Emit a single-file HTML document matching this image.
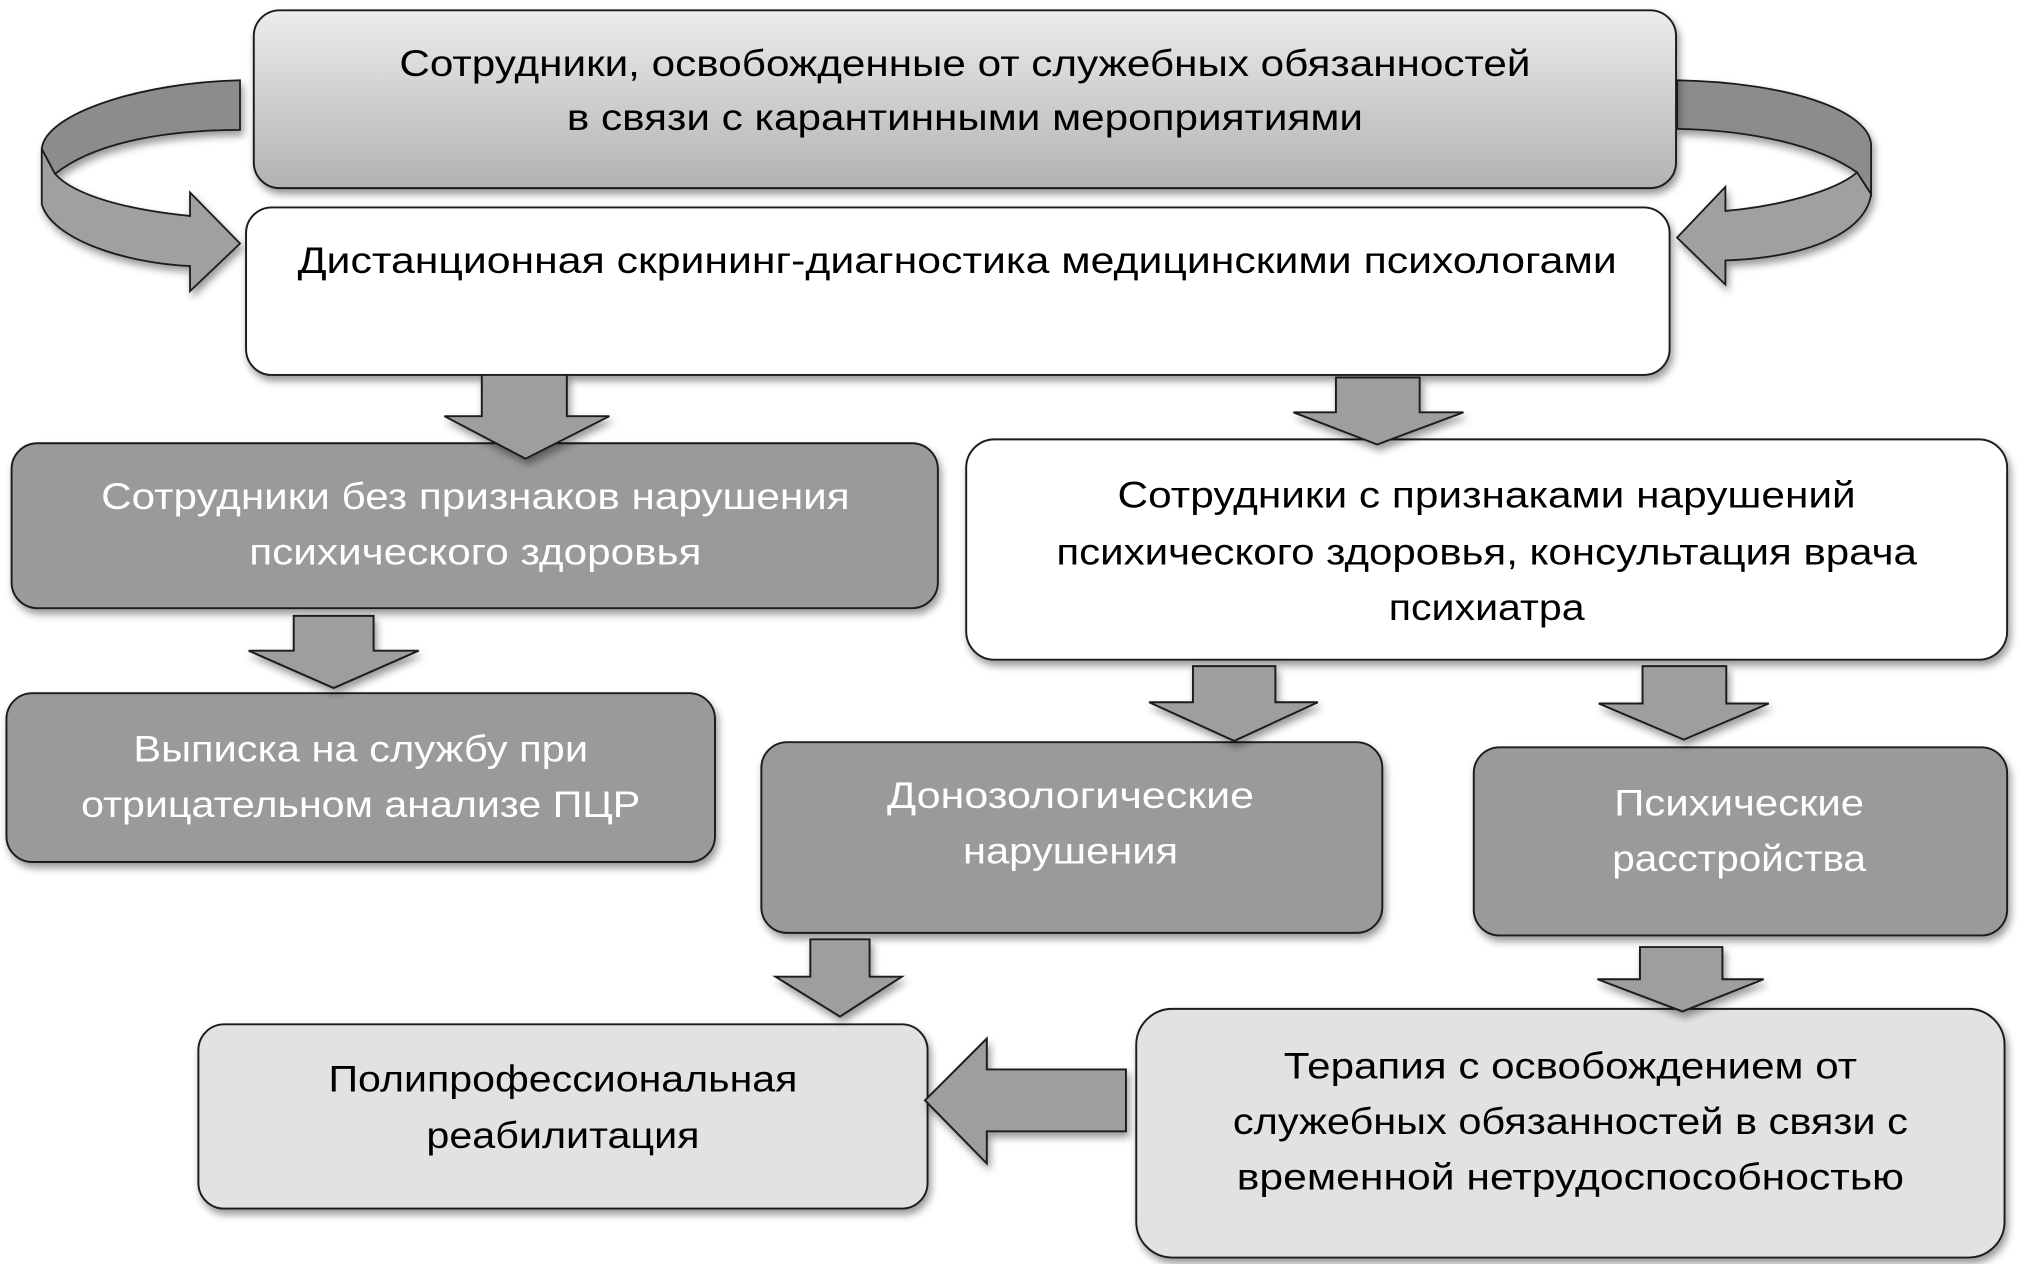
<!DOCTYPE html>
<html><head><meta charset="utf-8"><style>
html,body{margin:0;padding:0;background:#fff;}
svg{display:block;}
text{font-family:"Liberation Sans","DejaVu Sans",sans-serif;font-size:29px;text-anchor:middle;}
.d{fill:#000;}
.w{fill:#fff;}
</style></head><body>
<svg width="2020" height="1264" viewBox="0 0 1568 981" preserveAspectRatio="none" xmlns="http://www.w3.org/2000/svg">
<defs>
<linearGradient id="g1" x1="0" y1="0" x2="0" y2="1">
<stop offset="0" stop-color="#ececec"/>
<stop offset="1" stop-color="#b2b2b2"/>
</linearGradient>
<filter id="sh" x="-10%" y="-10%" width="120%" height="130%">
<feDropShadow dx="2" dy="4" stdDeviation="3" flood-color="#000" flood-opacity="0.4"/>
</filter>
</defs>

<!-- left ribbon arrow -->
<g stroke="#1a1a1a" stroke-width="1.4" stroke-linejoin="miter" filter="url(#sh)">
<path d="M186.3,62.3 C110,64 35,88 32.4,115.6 L42.7,135 C70,113 120,101 186.3,100.8 Z" fill="#8c8c8c"/>
<path d="M32.4,115.6 L32.4,158.4 C40,185 95,204 147.5,206.5 L147.5,226 L186.3,189 L147.5,149.4 L147.5,167.6 C100,163 58,152 42.7,135 Z" fill="#a0a0a0"/>
</g>
<!-- right ribbon arrow -->
<g stroke="#1a1a1a" stroke-width="1.4" stroke-linejoin="miter" filter="url(#sh)">
<path d="M1301.8,62.3 C1390,64 1450,86 1452.4,111.7 L1452.4,150.7 L1441.5,133.8 C1412,113 1360,101 1301.8,100 Z" fill="#8c8c8c"/>
<path d="M1452.4,150.7 C1448,182 1400,200 1339.3,202.1 L1339.3,220.8 L1301.8,184.4 L1339.3,145 L1339.3,163.7 C1382,160 1425,148 1441.5,133.8 Z" fill="#a0a0a0"/>
</g>

<!-- boxes -->
<rect x="197" y="8" width="1104" height="138" rx="20" fill="url(#g1)" stroke="#1a1a1a" stroke-width="1.5" filter="url(#sh)"/>
<rect x="191" y="161" width="1105" height="130" rx="20" fill="#fff" stroke="#1a1a1a" stroke-width="1.5" filter="url(#sh)"/>
<rect x="9" y="344" width="719" height="128" rx="20" fill="#9a9a9a" stroke="#1a1a1a" stroke-width="1.5" filter="url(#sh)"/>
<rect x="750" y="341" width="808" height="171" rx="22" fill="#fff" stroke="#1a1a1a" stroke-width="1.5" filter="url(#sh)"/>
<rect x="5" y="538" width="550" height="131" rx="20" fill="#9a9a9a" stroke="#1a1a1a" stroke-width="1.5" filter="url(#sh)"/>
<rect x="591" y="576" width="482" height="148" rx="20" fill="#9a9a9a" stroke="#1a1a1a" stroke-width="1.5" filter="url(#sh)"/>
<rect x="1144" y="580" width="414" height="146" rx="20" fill="#9a9a9a" stroke="#1a1a1a" stroke-width="1.5" filter="url(#sh)"/>
<rect x="154" y="795" width="566" height="143" rx="20" fill="#e2e2e2" stroke="#1a1a1a" stroke-width="1.5" filter="url(#sh)"/>
<rect x="882" y="783" width="674" height="193" rx="28" fill="#e2e2e2" stroke="#1a1a1a" stroke-width="1.5" filter="url(#sh)"/>

<!-- arrows -->
<g fill="#9e9e9e" stroke="#1a1a1a" stroke-width="1.5" stroke-linejoin="miter" filter="url(#sh)">
<polygon points="374,291 440,291 440,323 473,323 408,356 345,323 374,323"/>
<polygon points="1037,293 1102,293 1102,320 1136,320 1069,345 1004,320 1037,320"/>
<polygon points="228,478 290,478 290,505 325,505 259,534 193,505 228,505"/>
<polygon points="926,517 990,517 990,545 1023,545 958,575 892,545 926,545"/>
<polygon points="1275,517 1340,517 1340,546 1373,546 1307,574 1241,546 1275,546"/>
<polygon points="629,729 675,729 675,758 700,758 652,789 602,758 629,758"/>
<polygon points="1273,735 1337,735 1337,760 1369,760 1306,785 1240,760 1273,760"/>
<polygon points="874,830 874,878 766,878 766,903 718,854 766,806 766,830"/>
</g>

<!-- text -->
<text class="d" x="749" y="59" textLength="878" lengthAdjust="spacingAndGlyphs">Сотрудники, освобожденные от служебных обязанностей</text>
<text class="d" x="749" y="101" textLength="618" lengthAdjust="spacingAndGlyphs">в связи с карантинными мероприятиями</text>

<text class="d" x="743" y="212" textLength="1024" lengthAdjust="spacingAndGlyphs">Дистанционная скрининг-диагностика медицинскими психологами</text>

<text class="w" x="369" y="395" textLength="581" lengthAdjust="spacingAndGlyphs">Сотрудники без признаков нарушения</text>
<text class="w" x="369" y="438" textLength="351" lengthAdjust="spacingAndGlyphs">психического здоровья</text>

<text class="d" x="1154" y="394" textLength="573" lengthAdjust="spacingAndGlyphs">Сотрудники с признаками нарушений</text>
<text class="d" x="1154" y="438" textLength="668" lengthAdjust="spacingAndGlyphs">психического здоровья, консультация врача</text>
<text class="d" x="1154" y="481" textLength="152" lengthAdjust="spacingAndGlyphs">психиатра</text>

<text class="w" x="280" y="591" textLength="353" lengthAdjust="spacingAndGlyphs">Выписка на службу при</text>
<text class="w" x="280" y="634" textLength="434" lengthAdjust="spacingAndGlyphs">отрицательном анализе ПЦР</text>

<text class="w" x="831" y="627" textLength="285" lengthAdjust="spacingAndGlyphs">Донозологические</text>
<text class="w" x="831" y="670" textLength="167" lengthAdjust="spacingAndGlyphs">нарушения</text>

<text class="w" x="1350" y="633" textLength="194" lengthAdjust="spacingAndGlyphs">Психические</text>
<text class="w" x="1350" y="676" textLength="197" lengthAdjust="spacingAndGlyphs">расстройства</text>

<text class="d" x="437" y="847" textLength="364" lengthAdjust="spacingAndGlyphs">Полипрофессиональная</text>
<text class="d" x="437" y="891" textLength="212" lengthAdjust="spacingAndGlyphs">реабилитация</text>

<text class="d" x="1219" y="837" textLength="445" lengthAdjust="spacingAndGlyphs">Терапия с освобождением от</text>
<text class="d" x="1219" y="880" textLength="524" lengthAdjust="spacingAndGlyphs">служебных обязанностей в связи с</text>
<text class="d" x="1219" y="923" textLength="518" lengthAdjust="spacingAndGlyphs">временной нетрудоспособностью</text>
</svg>
</body></html>
